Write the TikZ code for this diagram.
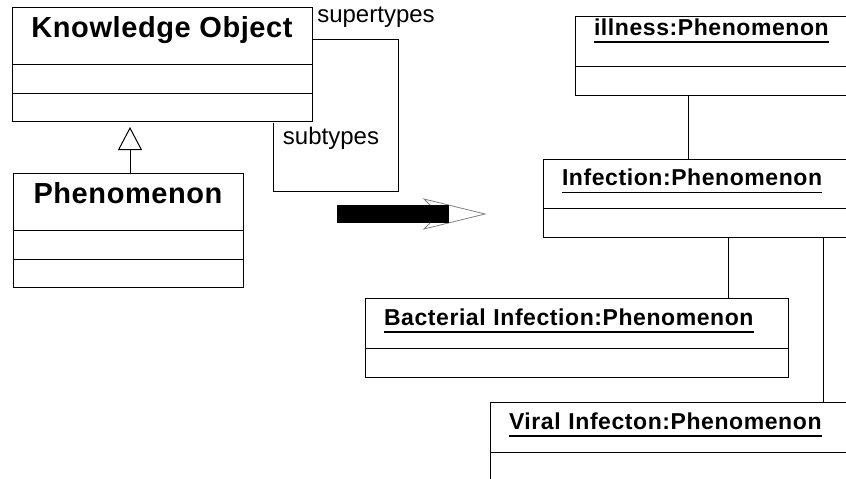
\documentclass[tikz,border=0pt]{standalone}
\usepackage{fontspec}
\setmainfont{Liberation Sans}
\usetikzlibrary{arrows.meta,positioning}

\newcommand{\objname}[1]{\setbox0=\hbox{#1}\rlap{\rule[-7.5pt]{\wd0}{1.1pt}}\box0}

\begin{document}
\begin{tikzpicture}[
  x=1pt, y=-1pt,
  line width=1pt,
  box/.style={rectangle, draw=black, line width=1pt, inner sep=0pt, outer sep=0pt, anchor=north west},
  clshead/.style={box, minimum height=57pt, text height=21pt, text depth=18pt, font=\fontsize{29}{31}\selectfont\bfseries\addfontfeature{LetterSpace=2}},
  objhead/.style={box, minimum height=50pt, text height=16pt, text depth=12pt, inner xsep=19pt, align=left, font=\fontsize{23}{25}\selectfont\bfseries\addfontfeature{LetterSpace=2.5}},
  cell/.style={box, minimum height=29pt},
  tag/.style={font=\fontsize{24}{26}\selectfont},
  link/.style={draw=black, line width=1pt},
  inherit/.style={link, -{Triangle[open, length=23pt, width=24pt, fill=white, line width=1pt]}}
]
\useasboundingbox (0,0) rectangle (846,479);
\clip (0,0) rectangle (846,479);
% class diagram
\node[clshead, minimum width=300pt] (ko) at (12,7) {Knowledge Object};
\node[cell, minimum width=300pt, below=0pt of ko] (ko1) {};
\node[cell, minimum width=300pt, minimum height=28pt, below=0pt of ko1] (ko2) {};
\node[clshead, minimum width=230pt] (ph) at (13,173) {Phenomenon};
\node[cell, minimum width=230pt, below=0pt of ph] (ph1) {};
\node[cell, minimum width=230pt, minimum height=28pt, below=0pt of ph1] (ph2) {};
\node[tag] (supl) at (376,17) {supertypes};
\node[tag] (subl) at (331,138) {subtypes};
\coordinate (subend) at (273,123);
\coordinate (genb) at ([xshift=2pt]ph.north);
\draw[inherit, shorten >=6pt] (genb) -- (genb |- ko2.south);
\draw[link] ([yshift=-32pt]ko.north east) -- ++(86,0) -- ++(0,152) -| (subend);
% transformation arrow
\draw[gray, line width=0.8pt] (430,205) -- (424,199) -- (485,214) -- (424,229) -- (430,223);
\fill[black] (337,205) rectangle (449,223);
% object diagram
\node[objhead, text width=242pt, text depth=28pt] (ill) at (575,16) {\objname{illness:Phenomenon}};
\node[cell, minimum width=280pt, below=0pt of ill] (ill1) {};
\node[objhead, text width=274pt, minimum height=49pt] (inf) at (543,159) {\objname{Infection:Phenomenon}};
\node[cell, minimum width=312pt, below=0pt of inf] (inf1) {};
\node[objhead, text width=385pt] (bac) at (365,298) {\objname{Bacterial Infection:Phenomenon}};
\node[cell, minimum width=423pt, below=0pt of bac] (bac1) {};
\node[objhead, text width=327pt] (vir) at (490,402) {\objname{Viral Infecton:Phenomenon}};
\node[cell, minimum width=365pt, below=0pt of vir] (vir1) {};
\draw[link] ([xshift=113pt]ill1.south west) -- ([xshift=145pt]inf.north west);
\draw[link] ([xshift=185pt]inf1.south west) -- ([xshift=-60pt]bac.north east);
\draw[link] ([xshift=280pt]inf1.south west) -- ([xshift=333pt]vir.north west);
\end{tikzpicture}
\end{document}
